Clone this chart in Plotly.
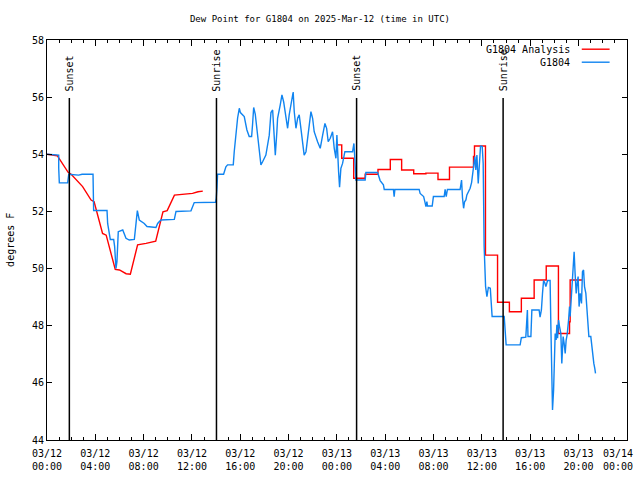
import pandas as pd
import plotly.graph_objects as go

START = pd.Timestamp("2025-03-12 00:00")

# ---- data (hours after 2025-03-12 00:00 UTC, dew point in degrees F) ----
analysis_day1_hours = [0.0, 0.85, 1.75, 2.0, 2.95, 3.65, 3.9, 4.6, 4.9, 5.65, 6.0, 6.55, 6.9, 7.5,
                       8.2, 8.9, 9.0, 9.6, 9.95, 10.55, 11.4, 12.05, 12.5, 12.9]
analysis_day1_values = [54.0, 53.95, 53.37, 53.3, 52.87, 52.4, 52.34, 51.23, 51.17, 49.97, 49.95, 49.82,
                        49.8, 50.83, 50.88, 50.94, 50.96, 51.99, 52.03, 52.57, 52.61, 52.63, 52.69, 52.71]

analysis_day2_hours = [23.92, 24.4, 25.39, 26.34, 27.4, 28.42, 29.36, 30.36, 31.37, 32.37, 33.32, 35.31,
                       35.39, 36.3, 37.3, 38.28, 39.27, 40.33, 41.33, 42.34, 43.26, 43.31, 44.29]
analysis_day2_values = [54.33, 53.86, 53.16, 53.3, 53.47, 53.82, 53.45, 53.32, 53.34, 53.12, 53.55, 53.92,
                        54.29, 50.47, 48.82, 48.49, 48.96, 49.6, 50.09, 47.73, 48.14, 49.6, 49.6]

obs_hours = [0.0, 0.97, 0.97, 1.02, 1.71, 1.8, 2.62, 2.9, 3.81, 3.83, 3.86, 4.97, 5.02, 5.24, 5.52, 5.6,
             5.65, 5.71, 5.79, 5.9, 6.27, 6.54, 6.81, 7.23, 7.37, 7.48, 7.64, 8.05, 8.28, 9.02, 9.16,
             9.43, 10.54, 10.68, 11.92, 12.19, 13.95, 14.01, 14.07, 14.12, 14.62, 14.81, 14.95, 15.42,
             15.5, 15.64, 15.78, 15.92, 16.01, 16.33, 16.55, 16.74, 16.94, 17.02, 17.11, 17.24, 17.44,
             17.57, 17.71, 17.85, 18.12, 18.4, 18.54, 18.68, 18.81, 18.9, 19.03, 19.09, 19.31, 19.45,
             19.59, 19.78, 19.92, 20.05, 20.28, 20.38, 20.47, 20.61, 20.75, 20.88, 21.02, 21.16, 21.29,
             21.44, 21.58, 21.71, 21.85, 21.99, 22.12, 22.4, 22.62, 22.82, 23.01, 23.15, 23.28, 23.45,
             23.64, 23.78, 23.92, 24.0, 24.06, 24.14, 24.22, 24.33, 24.47, 24.61, 24.66, 25.3, 25.41,
             25.49, 25.57, 26.34, 26.4, 27.37, 27.45, 27.58, 27.85, 27.92, 28.68, 28.74, 28.8, 30.81,
             30.89, 31.18, 31.28, 31.37, 31.45, 31.5, 31.89, 31.99, 32.88, 32.96, 33.05, 33.15, 34.2,
             34.32, 34.4, 34.49, 34.57, 34.68, 34.76, 34.87, 35.03, 35.15, 35.31, 35.42, 35.5, 35.59,
             35.7, 35.84, 35.89, 36.03, 36.11, 36.19, 36.31, 36.42, 36.54, 36.7, 36.79, 36.85, 37.85,
             37.93, 38.01, 39.17, 39.27, 39.64, 39.72, 39.77, 39.82, 40.06, 40.14, 40.74, 40.82, 40.93,
             41.02, 41.11, 41.21, 41.3, 41.44, 41.65, 41.71, 41.77, 41.85, 41.94, 41.99, 42.07, 42.15,
             42.21, 42.27, 42.35, 42.43, 42.54, 42.62, 42.73, 42.81, 42.9, 42.98, 43.06, 43.18, 43.26,
             43.31, 43.43, 43.51, 43.56, 43.64, 43.72, 43.81, 43.89, 43.97, 44.05, 44.14, 44.25, 44.33,
             44.42, 44.5, 44.61, 44.69, 44.77, 44.86, 45.02, 45.1, 45.19, 45.27, 45.35, 45.41]
obs_values = [54.0, 53.97, 53.51, 53.0, 53.0, 53.3, 53.27, 53.3, 53.3, 52.75, 52.03, 52.03, 51.58, 51.02,
              51.02, 50.77, 50.07, 50.0, 50.24, 51.29, 51.35, 51.06, 51.0, 51.02, 51.58, 52.03, 51.7,
              51.58, 51.47, 51.44, 51.58, 51.7, 51.72, 52.0, 52.02, 52.31, 52.32, 52.46, 52.81, 53.3,
              53.3, 53.56, 53.63, 53.63, 54.09, 54.71, 55.27, 55.61, 55.46, 55.32, 54.85, 54.62, 54.62,
              55.06, 55.64, 55.41, 54.73, 54.09, 53.63, 53.74, 53.97, 54.67, 55.46, 55.55, 54.33, 53.97,
              54.79, 55.26, 55.73, 56.08, 55.84, 55.26, 54.91, 55.38, 55.96, 56.18, 55.49, 54.91, 55.26,
              55.38, 54.91, 54.44, 53.97, 54.09, 54.56, 55.03, 55.49, 55.26, 54.79, 54.44, 54.21, 54.67,
              55.08, 54.91, 54.44, 54.56, 54.79, 54.21, 53.86, 54.67, 53.97, 53.39, 52.85, 53.51, 53.68,
              53.97, 54.09, 54.09, 54.38, 53.8, 53.1, 53.1, 53.36, 53.36, 53.22, 53.08, 52.93, 52.77,
              52.77, 52.52, 52.77, 52.77, 52.63, 52.52, 52.34, 52.17, 52.34, 52.19, 52.19, 52.52, 52.52,
              52.77, 52.52, 52.77, 52.77, 53.1, 52.47, 52.11, 52.34, 52.4, 52.58, 52.69, 52.81, 53.01,
              53.47, 53.92, 53.45, 53.97, 52.98, 53.92, 54.29, 54.28, 53.68, 50.77, 49.37, 49.02, 49.34,
              49.31, 48.84, 48.32, 48.32, 47.85, 47.33, 47.33, 47.58, 47.6, 48.08, 48.55, 47.62, 47.62,
              48.55, 48.55, 48.3, 48.55, 49.13, 49.58, 49.5, 49.37, 49.58, 49.58, 48.08, 45.75, 45.05,
              45.75, 46.57, 47.73, 47.5, 48.03, 47.56, 48.2, 47.97, 47.73, 46.68, 47.62, 47.39, 47.03,
              47.5, 47.68, 48.2, 48.67, 48.32, 49.02, 49.6, 50.07, 50.59, 49.83, 49.13, 49.48, 49.72,
              48.67, 49.13, 48.78, 49.89, 49.95, 49.37, 49.13, 48.55, 48.08, 47.62, 47.62, 47.27, 46.92,
              46.68, 46.51, 46.33]

event_hours = [1.85, 14.03, 25.63, 37.76]
event_labels = ["Sunset", "Sunrise", "Sunset", "Sunrise"]

tick_hours = [0, 4, 8, 12, 16, 20, 24, 28, 32, 36, 40, 44, 48]
tick_labels = ["03/12<br>00:00", "03/12<br>04:00", "03/12<br>08:00", "03/12<br>12:00",
               "03/12<br>16:00", "03/12<br>20:00", "03/13<br>00:00", "03/13<br>04:00",
               "03/13<br>08:00", "03/13<br>12:00", "03/13<br>16:00", "03/13<br>20:00",
               "03/14<br>00:00"]
y_ticks = [44, 46, 48, 50, 52, 54, 56, 58]

series_names = ["G1804 Analysis", "G1804"]
series_colors = ["#ff0000", "#1084f0"]


def to_time(hours):
    return [START + pd.Timedelta(hours=h) for h in hours]


FONT = "DejaVu Sans Mono"
LW = 1.4

fig = go.Figure()
fig.add_trace(go.Scatter(x=to_time(analysis_day1_hours), y=analysis_day1_values, mode="lines",
                         line=dict(color=series_colors[0], width=LW), name=series_names[0],
                         showlegend=False))
fig.add_trace(go.Scatter(x=to_time(analysis_day2_hours), y=analysis_day2_values, mode="lines",
                         line=dict(color=series_colors[0], width=LW, shape="hv"), name=series_names[0],
                         showlegend=False))
fig.add_trace(go.Scatter(x=to_time(obs_hours), y=obs_values, mode="lines",
                         line=dict(color=series_colors[1], width=LW), name=series_names[1],
                         showlegend=False))

shapes = []
annotations = []
line_top = 0.855
for h, lab in zip(event_hours, event_labels):
    t = START + pd.Timedelta(hours=h)
    shapes.append(dict(type="line", xref="x", yref="paper", x0=t, x1=t, y0=0, y1=line_top,
                       line=dict(color="black", width=1.5)))
    annotations.append(dict(xref="x", yref="paper", x=t, y=line_top + 0.012, text=lab,
                            textangle=-90, showarrow=False, yanchor="bottom", xanchor="center",
                            font=dict(family=FONT, size=10, color="black")))

# gnuplot-style legend: text on the left, line sample on the right
for i, (name, col) in enumerate(zip(series_names, series_colors)):
    yy = 0.977 - i * 0.0325
    annotations.append(dict(xref="paper", yref="paper", x=0.905, y=yy, text=name,
                            showarrow=False, xanchor="right", yanchor="middle",
                            font=dict(family=FONT, size=10, color="black")))
    shapes.append(dict(type="line", xref="paper", yref="paper", x0=0.922, x1=0.97, y0=yy, y1=yy,
                       line=dict(color=col, width=LW)))

annotations.append(dict(xref="paper", yref="paper", x=-0.064, y=0.5, text="degrees F",
                        textangle=-90, showarrow=False, xanchor="center", yanchor="middle",
                        font=dict(family=FONT, size=10, color="black")))

# last x tick label: drawn as text nudged left so it stays inside the canvas (as gnuplot does)
annotations.append(dict(xref="paper", yref="paper", x=1.0, y=0, xanchor="right", yanchor="top",
                        xshift=8, yshift=-6, text=tick_labels[-1], showarrow=False, align="center",
                        font=dict(family=FONT, size=10, color="black")))
axis_tick_text = tick_labels[:-1] + [""]

fig.update_layout(
    width=640, height=480,
    margin=dict(l=47, r=13, t=40, b=40, autoexpand=False),
    paper_bgcolor="white", plot_bgcolor="white",
    font=dict(family=FONT, size=10, color="black"),
    title=dict(text="Dew Point for G1804 on 2025-Mar-12 (time in UTC)", x=0.5, xref="container",
               y=1 - 19 / 480, yref="container", yanchor="middle", xanchor="center",
               font=dict(family=FONT, size=9, color="black")),
    shapes=shapes, annotations=annotations,
    showlegend=False,
)
fig.update_xaxes(type="date", range=[START, START + pd.Timedelta(hours=48, minutes=1)],
                 tickvals=to_time(tick_hours), ticktext=axis_tick_text,
                 showline=True, linecolor="black", linewidth=1, mirror="ticks",
                 ticks="inside", ticklen=6, tickcolor="black", tickwidth=1,
                 minor=dict(ticks="inside", ticklen=3, dtick=3600000, tickcolor="black"),
                 showgrid=False, zeroline=False, ticklabelstandoff=4,
                 automargin=False,
                 tickfont=dict(family=FONT, size=10, color="black"))
fig.update_yaxes(range=[44, 58], tickvals=y_ticks, ticktext=[str(v) for v in y_ticks],
                 showline=True, linecolor="black", linewidth=1, mirror="ticks",
                 ticks="inside", ticklen=5, tickcolor="black", tickwidth=1,
                 showgrid=False, zeroline=False, automargin=False,
                 tickfont=dict(family=FONT, size=10, color="black"))

fig.write_html("out.html", config={"displayModeBar": False},
               post_script="document.body.style.margin='0';document.body.style.overflow='hidden';")
